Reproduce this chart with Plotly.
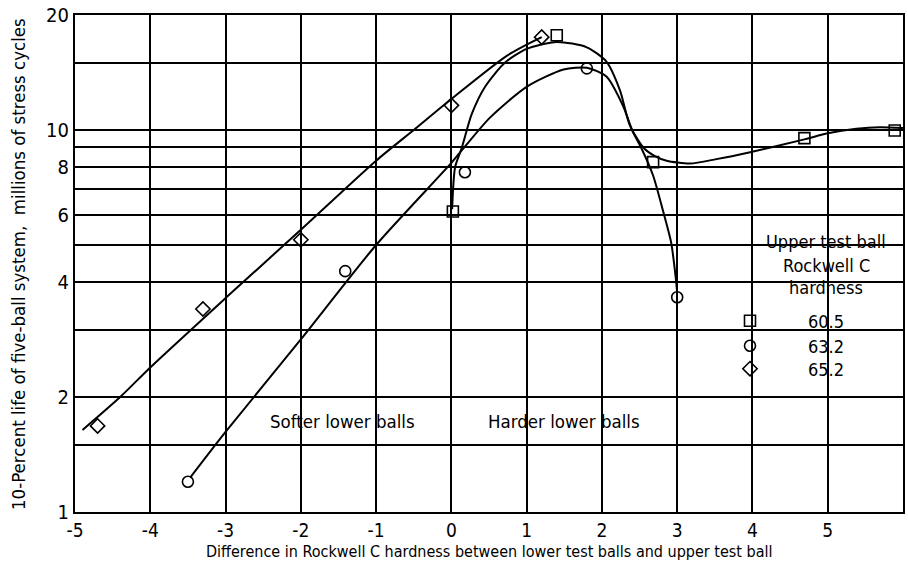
import plotly.graph_objects as go

# ---- data ----
hardness_labels = ["60.5", "63.2", "65.2"]
legend_header = ["Upper test ball", "Rockwell C", "hardness"]

# measured points
sq_x = [0.02, 1.40, 2.68, 4.69, 5.89]
sq_y = [6.12, 17.7, 8.24, 9.52, 9.97]

ci_x = [-3.50, -1.41, 0.18, 1.80, 3.00]
ci_y = [1.20, 4.27, 7.75, 14.5, 3.65]

di_x = [-4.70, -3.30, -2.00, 0.00, 1.20]
di_y = [1.68, 3.40, 5.16, 11.6, 17.5]

# faired curves
sq_curve_x = [0.01, 0.05, 0.14, 0.27, 0.45, 0.71, 1.00, 1.40, 1.80, 2.06, 2.24, 2.37,
              2.55, 2.71, 2.86, 3.17, 3.52, 3.97, 4.69, 5.00, 5.38, 5.69, 6.00]
sq_curve_y = [6.2, 8.0, 9.0, 11.0, 13.0, 15.0, 16.3, 17.0, 16.46, 15.1, 12.7, 10.3,
              9.0, 8.53, 8.31, 8.17, 8.39, 8.75, 9.45, 9.8, 10.07, 10.17, 10.12]

ci_curve_x = [-3.47, -3.00, -2.00, -1.00, 0.00, 0.16, 0.51, 1.00,
              1.49, 1.80, 2.06, 2.28, 2.41, 2.52, 2.68, 2.81, 2.92, 2.98, 3.00]
ci_curve_y = [1.23, 1.62, 2.83, 5.0, 8.2, 8.95, 10.76, 12.97,
              14.4, 14.55, 13.8, 11.57, 9.9, 9.0, 7.6, 6.16, 5.07, 4.12, 3.75]

di_curve_x = [-4.90, -4.40, -4.00, -3.00, -2.00, -1.00, -0.50, 0.00, 0.75, 1.20]
di_curve_y = [1.64, 2.0, 2.39, 3.63, 5.48, 8.31, 10.0, 12.05, 15.7, 17.5]

x_ticks = [-5, -4, -3, -2, -1, 0, 1, 2, 3, 4, 5, 6]
x_ticktext = ["-5", "-4", "-3", "-2", "-1", "0", "1", "2", "3", "4", "5", "6"]
y_grid = [1, 1.5, 2, 3, 4, 5, 6, 7, 8, 9, 10, 15, 20]
y_ticktext = ["1", "", "2", "", "4", "", "6", "", "8", "", "10", "", "20"]

FONT = "Liberation Sans Narrow, DejaVu Sans Condensed, sans-serif"
INK = "black"

fig = go.Figure()

line_style = dict(color=INK, width=2, shape="spline", smoothing=0.7)
for cx, cy in [(sq_curve_x, sq_curve_y), (ci_curve_x, ci_curve_y), (di_curve_x, di_curve_y)]:
    fig.add_trace(go.Scatter(x=cx, y=cy, mode="lines", line=line_style,
                             showlegend=False, hoverinfo="skip"))

marker_sets = [
    (sq_x, sq_y, "square-open", hardness_labels[0], "legend"),
    (ci_x, ci_y, "circle-open", hardness_labels[1], "legend2"),
    (di_x, di_y, "diamond-open", hardness_labels[2], "legend3"),
]
for mx, my, sym, name, lg in marker_sets:
    fig.add_trace(go.Scatter(
        x=mx, y=my, mode="markers", name=name, legend=lg,
        marker=dict(symbol=sym, size=11, color=INK, line=dict(color=INK, width=1.6)),
        cliponaxis=False,
    ))

# plot-area geometry (pixels) used for placing legend pieces
L, R, T, B = 75, 5, 15, 50
W, H = 908 - L - R, 562 - T - B
def px2paper_x(px):
    return (px - L) / W
def px2paper_y(py):
    return (562 - B - py) / H

def one_legend(py):
    return dict(x=px2paper_x(692), y=px2paper_y(py), xanchor="left", yanchor="middle",
                bgcolor="rgba(0,0,0,0)", borderwidth=0, itemwidth=106,
                font=dict(family=FONT, size=18, color=INK))

annotations = [
    dict(x=-1.45, y=0.238, xref="x", yref="y", text="Softer lower balls",
         showarrow=False, font=dict(size=18.5)),
    dict(x=1.50, y=0.238, xref="x", yref="y", text="Harder lower balls",
         showarrow=False, font=dict(size=18.5)),
    dict(x=px2paper_x(489), y=px2paper_y(551), xref="paper", yref="paper",
         xanchor="center", yanchor="middle",
         text="Difference in Rockwell C hardness between lower test balls and upper test ball",
         showarrow=False, font=dict(size=16)),
    dict(x=px2paper_x(18), y=px2paper_y(264), xref="paper", yref="paper",
         xanchor="center", yanchor="middle", textangle=-90,
         text="10-Percent life of five-ball system,  millions of stress cycles",
         showarrow=False, font=dict(size=18.5)),
]
for txt, py in zip(legend_header, [241, 265, 288]):
    annotations.append(dict(x=px2paper_x(826), y=px2paper_y(py), xref="paper", yref="paper",
                            xanchor="center", yanchor="middle", text=txt,
                            showarrow=False, font=dict(size=18)))

fig.update_layout(
    width=908, height=562,
    margin=dict(l=L, r=R, t=T, b=B),
    paper_bgcolor="white", plot_bgcolor="white",
    font=dict(family=FONT, size=18, color=INK),
    xaxis=dict(
        range=[-5, 6], tickvals=x_ticks, ticktext=x_ticktext, automargin=False,
        showgrid=True, gridcolor=INK, gridwidth=1.5,
        showline=True, linecolor=INK, linewidth=2, mirror=True,
        zeroline=False, ticks="", tickfont=dict(size=19),
    ),
    yaxis=dict(
        type="log", range=[0, 1.30103], tickvals=y_grid, ticktext=y_ticktext, automargin=False,
        showgrid=True, gridcolor=INK, gridwidth=1.5,
        showline=True, linecolor=INK, linewidth=2, mirror=True,
        zeroline=False, ticks="", tickfont=dict(size=20),
    ),
    legend=one_legend(321),
    legend2=one_legend(346),
    legend3=one_legend(369),
    shapes=[dict(type="rect", xref="paper", yref="paper",
                 x0=px2paper_x(695), x1=px2paper_x(891),
                 y0=px2paper_y(382), y1=px2paper_y(227),
                 fillcolor="white", line=dict(width=0), layer="between")],
    annotations=annotations,
)

fig.write_html("out.html", config={"displayModeBar": False},
               post_script="document.body.style.margin='0';document.body.style.overflow='hidden';")
